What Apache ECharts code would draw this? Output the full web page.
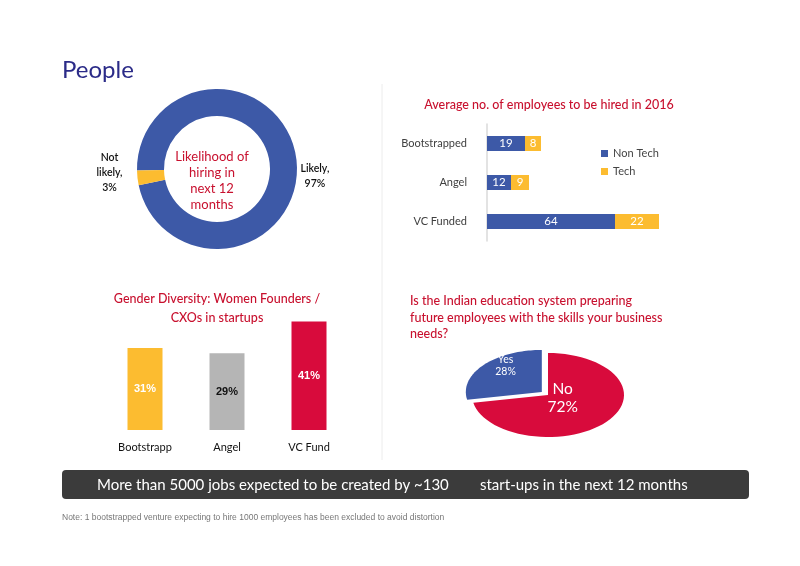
<!DOCTYPE html>
<html>
<head>
<meta charset="utf-8">
<script src="https://cdn.jsdelivr.net/npm/echarts@6/dist/echarts.min.js"></script>
<style>
html, body {margin: 0; padding: 0; background: #fff;}
#main {width: 800px; height: 566px;}
</style>
</head>
<body>
<div id="main"></div>
<script>
// likelihood of hiring (donut)
var hireNames = ['Likely', 'Not likely'];
var hireValues = [97, 3];

// avg employees to be hired in 2016
var empCats = ['Bootstrapped', 'Angel', 'VC Funded'];
var empNonTech = [19, 12, 64];
var empTech = [8, 9, 22];

// women founders / CXOs
var womenCats = ['Bootstrapp', 'Angel', 'VC Fund'];
var womenValues = [31, 29, 41];

// education system pie
var eduNames = ['Yes', 'No'];
var eduValues = [28, 72];

var BLUE = '#3d59a7', YELLOW = '#fcbc30', RED = '#d80b3c', GRAY = '#b5b5b5', TITLE_RED = '#c8102e';

var chart = echarts.init(document.getElementById('main'));

// flattened pie: ellipse sectors built from the values
var eduTotal = eduValues.reduce(function (a, b) { return a + b; }, 0);
var eduColors = [BLUE, RED];
var eduLabelR = [[0.62, 1.0], [0.25, 0.1]];
var eduFont = [10.5, 15.5];
function renderEdu(params, api) {
    var idx = params.dataIndex;
    var cx = 548, cy = 395, rx = 76, ry = 42;
    var before = 0;
    for (var i = 0; i < idx; i++) before += eduValues[i];
    var a0 = 90 + before / eduTotal * 360;
    var a1 = 90 + (before + api.value(1)) / eduTotal * 360;
    var mid = (a0 + a1) / 2 * Math.PI / 180;
    var off = idx === 0 ? 8 : 0;
    var ox = cx + off * Math.cos(mid), oy = cy - off * 0.6 * Math.sin(mid);
    var pts = [[ox, oy]];
    for (var k = 0; k <= 60; k++) {
        var a = (a0 + (a1 - a0) * k / 60) * Math.PI / 180;
        pts.push([ox + rx * Math.cos(a), oy - ry * Math.sin(a)]);
    }
    var lr = eduLabelR[idx];
    return {
        type: 'group',
        children: [{
            type: 'polygon',
            shape: {points: pts},
            style: {fill: eduColors[idx]}
        }, {
            type: 'text',
            x: ox + lr[0] * rx * Math.cos(mid),
            y: oy - lr[1] * ry * Math.sin(mid),
            style: {
                text: eduNames[idx] + '\n' + api.value(1) + '%',
                fill: '#fff',
                fontSize: eduFont[idx],
                fontFamily: 'Lato',
                align: 'center',
                verticalAlign: 'middle',
                lineHeight: eduFont[idx] * 1.15
            }
        }]
    };
}

var option = {
    animation: false,
    textStyle: {fontFamily: 'Lato'},
    title: [
        {text: 'People', left: 62, top: 58, padding: 0, textStyle: {fontSize: 24, color: '#2b2b88', fontWeight: 'normal'}},
        {text: 'Average no. of employees to be hired in 2016', left: 549, top: 98, padding: 0, textAlign: 'center',
            textStyle: {fontSize: 12.5, color: TITLE_RED, fontWeight: 500}},
        {text: 'Gender Diversity: Women Founders /\nCXOs in startups', left: 217, top: 289, padding: 0, textAlign: 'center',
            textStyle: {fontSize: 12.5, lineHeight: 19, color: TITLE_RED, fontWeight: 500}},
        {text: 'Is the Indian education system preparing\nfuture employees with the skills your business\nneeds?',
            left: 410, top: 293, padding: 0, textStyle: {fontSize: 12.5, lineHeight: 16.5, color: TITLE_RED, fontWeight: 500}}
    ],
    legend: {
        data: ['Non Tech', 'Tech'],
        orient: 'vertical', left: 596, top: 143,
        icon: 'rect', itemWidth: 7, itemHeight: 7, itemGap: 7,
        textStyle: {fontSize: 11, color: '#444'}
    },
    grid: [
        {left: 487, top: 124, width: 200, height: 117},
        {left: 104, top: 311, width: 246, height: 119}
    ],
    xAxis: [
        {gridIndex: 0, type: 'value', min: 0, max: 100, show: false},
        {gridIndex: 1, type: 'category', data: womenCats,
            axisLine: {show: false}, axisTick: {show: false},
            axisLabel: {margin: 12, fontSize: 11, color: '#111'}}
    ],
    yAxis: [
        {gridIndex: 0, type: 'category', data: empCats, inverse: true,
            axisLine: {lineStyle: {color: '#dadada', width: 1.5}}, axisTick: {show: false},
            axisLabel: {margin: 20, fontSize: 11, color: '#404040'}},
        {gridIndex: 1, type: 'value', min: 0, max: 45, show: false}
    ],
    series: [
        {
            type: 'pie', center: [217, 169], radius: [53, 80],
            startAngle: 181, clockwise: true,
            data: hireNames.map(function (n, i) { return {name: n, value: hireValues[i]}; }),
            itemStyle: {color: function (p) { return [BLUE, YELLOW][p.dataIndex]; }},
            label: {
                show: true, position: 'outside', fontSize: 10.5, fontWeight: 600, color: '#111', lineHeight: 15,
                formatter: function (p) { return p.name.replace(' ', '\n') + ',\n' + p.value + '%'; }
            },
            labelLine: {show: false, length: 4, length2: 0},
            labelLayout: function (p) {
                var w = p.labelRect.width;
                return p.dataIndex === 1
                    ? {align: 'center', dx: -w / 2 - 6, dy: -6}
                    : {align: 'center', dx: w / 2 - 5, dy: 16};
            },
            emphasis: {disabled: true}
        },
        {
            name: 'Non Tech', type: 'bar', stack: 'emp', xAxisIndex: 0, yAxisIndex: 0,
            data: empNonTech, barWidth: 15, itemStyle: {color: BLUE},
            label: {show: true, position: 'inside', color: '#fff', fontSize: 11.5}
        },
        {
            name: 'Tech', type: 'bar', stack: 'emp', xAxisIndex: 0, yAxisIndex: 0,
            data: empTech, barWidth: 15, itemStyle: {color: YELLOW},
            label: {show: true, position: 'inside', color: '#fff', fontSize: 11.5}
        },
        {
            type: 'bar', xAxisIndex: 1, yAxisIndex: 1, barWidth: 35,
            data: womenValues.map(function (v, i) {
                return {
                    value: v,
                    itemStyle: {color: [YELLOW, GRAY, RED][i]},
                    label: {color: ['#fff', '#111', '#fff'][i]}
                };
            }),
            label: {show: true, position: 'inside', fontSize: 11, fontWeight: 'bold', fontFamily: 'Liberation Sans',
                formatter: '{c}%'}
        },
        {
            type: 'custom', coordinateSystem: 'none',
            data: eduValues.map(function (v, i) { return [i, v]; }),
            renderItem: renderEdu
        }
    ],
    graphic: [
        {type: 'line', shape: {x1: 382, y1: 84, x2: 382, y2: 460}, style: {stroke: '#ececec', lineWidth: 1}},
        {type: 'text', x: 212, y: 181, style: {
            text: 'Likelihood of\nhiring in\nnext 12\nmonths', fill: TITLE_RED, fontSize: 13, lineHeight: 16,
            fontFamily: 'Lato', align: 'center', verticalAlign: 'middle'}},
        {type: 'rect', shape: {x: 62, y: 470, width: 687, height: 29, r: 4}, style: {fill: '#3b3b3b'}},
        {type: 'text', x: 97, y: 485, style: {
            text: 'More than 5000 jobs expected to be created by ~130', fill: '#fff', fontSize: 15,
            fontFamily: 'Lato', verticalAlign: 'middle'}},
        {type: 'text', x: 480, y: 485, style: {
            text: 'start-ups in the next 12 months', fill: '#fff', fontSize: 15,
            fontFamily: 'Lato', verticalAlign: 'middle'}},
        {type: 'text', x: 62, y: 518, style: {
            text: 'Note: 1 bootstrapped venture expecting to hire 1000 employees has been excluded to avoid distortion',
            fill: '#777', fontSize: 8.5, fontFamily: 'Liberation Sans', verticalAlign: 'middle'}}
    ]
};

chart.setOption(option);
</script>
</body>
</html>
